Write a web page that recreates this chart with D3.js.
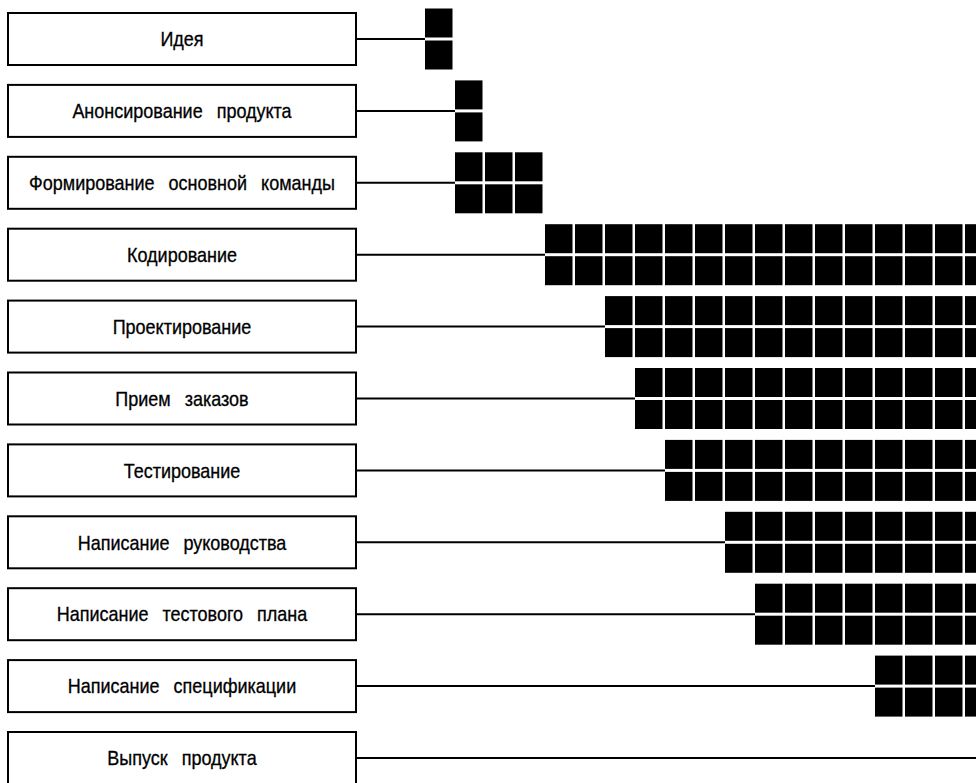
<!DOCTYPE html>
<html>
<head>
<meta charset="utf-8">
<script src="https://cdn.jsdelivr.net/npm/d3@7"></script>
<style>
  body { margin: 0; background: #fff; }
  svg { display: block; }
  .box { fill: #fff; stroke: #000; stroke-width: 2; }
  .link { stroke: #000; stroke-width: 2; }
  .label { font-family: "Liberation Sans", Arial, sans-serif; font-size: 20px; fill: #000; stroke: #000; stroke-width: 0.3; word-spacing: 10px; }
</style>
</head>
<body>
<div id="chart"></div>
<script>
// tasks, top to bottom
var tasks = ["Идея", "Анонсирование продукта", "Формирование основной команды", "Кодирование",
  "Проектирование", "Прием заказов", "Тестирование", "Написание руководства",
  "Написание тестового плана", "Написание спецификации", "Выпуск продукта"];
// first and last (exclusive) time column of each task; 20 = past the right edge
var startCol = [0, 1, 1, 4, 6, 7, 8, 10, 11, 15, 20];
var endCol = [1, 2, 4, 20, 20, 20, 20, 20, 20, 20, 20];
var subRows = [0, 1];

var width = 976, height = 783;
var boxLeft = 8, boxRight = 356, boxH = 52;
var sqW = 27.5, sqH = 29, gap = 1.5;

var svg = d3.select("#chart").append("svg")
  .attr("width", width)
  .attr("height", height);

var y = d3.scalePoint().domain(tasks).range([39, 758]);
var x = d3.scaleLinear().domain([0, 1]).range([425, 455]);

var data = tasks.map(function (t, i) {
  return { name: t, start: startCol[i], end: endCol[i] };
});

var row = svg.selectAll(".row")
  .data(data)
  .enter()
  .append("g")
  .attr("class", "row")
  .attr("transform", function (d) { return "translate(0," + y(d.name) + ")"; });

row.append("line")
  .attr("class", "link")
  .attr("x1", boxRight)
  .attr("x2", function (d) { return x(d.start); })
  .attr("y1", 0)
  .attr("y2", 0);

row.append("rect")
  .attr("class", "box")
  .attr("x", boxLeft)
  .attr("y", -boxH / 2)
  .attr("width", boxRight - boxLeft)
  .attr("height", boxH);

// squeeze text sideways a bit, the original uses a narrow face
var cx = (boxLeft + boxRight) / 2;
row.append("text")
  .attr("class", "label")
  .attr("transform", "translate(" + cx + ",0) scale(0.9,1)")
  .attr("dy", "0.36em")
  .attr("text-anchor", "middle")
  .text(function (d) { return d.name; });

// squares: two stacked cells per time column
row.selectAll(".cell")
  .data(function (d) {
    var cells = [];
    d3.range(d.start, d.end).forEach(function (c) {
      subRows.forEach(function (r) { cells.push({ col: c, sub: r }); });
    });
    return cells;
  })
  .enter()
  .append("rect")
  .attr("class", "cell")
  .attr("x", function (d) { return x(d.col); })
  .attr("y", function (d) { return d.sub === 0 ? -gap - sqH : gap; })
  .attr("width", sqW)
  .attr("height", sqH)
  .style("fill", "#000");
</script>
</body>
</html>
